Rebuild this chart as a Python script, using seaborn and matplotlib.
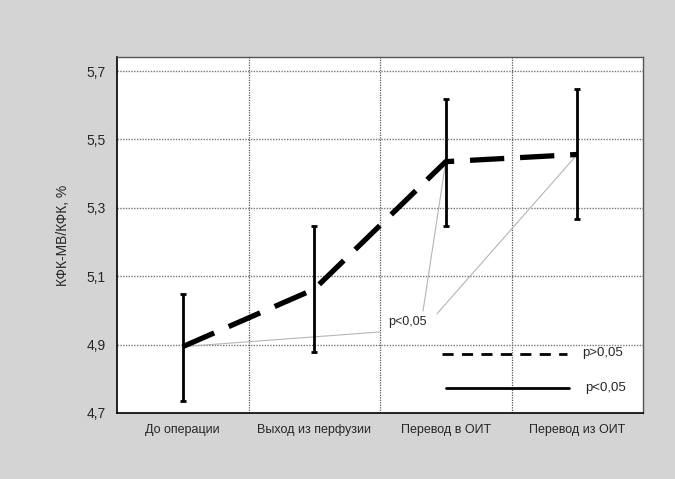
import numpy as np
import pandas as pd
import matplotlib
matplotlib.use("Agg")
import matplotlib.pyplot as plt
import seaborn as sns

# Данные
stages = ["До операции", "Выход из перфузии", "Перевод в ОИТ", "Перевод из ОИТ"]
means = [4.894, 5.062, 5.435, 5.456]
upper = [5.048, 5.248, 5.618, 5.646]
lower = [4.735, 4.878, 5.248, 5.267]
yticks = [4.7, 4.9, 5.1, 5.3, 5.5, 5.7]

sns.set_style("white")
plt.rcParams['font.family'] = ['Liberation Sans', 'DejaVu Sans']

df = pd.DataFrame({"pos": np.arange(len(stages)), "mean": means,
                   "lo": lower, "hi": upper})

fig = plt.figure(figsize=(6.75, 4.79), dpi=100, facecolor="#d4d4d4")
ax = fig.add_axes([117 / 675, 1 - 413 / 479, 526 / 675, 356 / 479])
ax.set_facecolor("white")

# сетка
for y in yticks[1:]:
    ax.axhline(y, color="#777777", linestyle=(0, (1, 1)), linewidth=1.0, zorder=1)
for x in [0.5, 1.5, 2.5]:
    ax.axvline(x, color="#555555", linestyle=(0, (1, 1)), linewidth=0.9, zorder=1)

# тонкие линии к подписи p<0,05
ax.plot([0, 1.5], [means[0], 4.937], color="#b5b5b5", linewidth=0.8, zorder=2)
ax.plot([1.827, 2], [4.998, means[2]], color="#b5b5b5", linewidth=0.8, zorder=2)
ax.plot([1.933, 3], [4.99, means[3]], color="#b5b5b5", linewidth=0.8, zorder=2)
ax.text(1.71, 4.966, "p<0,05", fontsize=9, ha="center", va="center", zorder=3)

# планки погрешностей
ax.errorbar(df["pos"], df["mean"],
            yerr=[df["mean"] - df["lo"], df["hi"] - df["mean"]],
            fmt="none", ecolor="black", elinewidth=2, capsize=2, capthick=2,
            zorder=4)

# средние значения
sns.lineplot(data=df, x="pos", y="mean", ax=ax, color="black", linewidth=3.8,
             zorder=5)
ax.lines[-1].set_dashes([6.5, 3])

# легенда
ax.plot([1.97, 2.92], [4.873, 4.873], color="black", linewidth=2,
        dashes=[4, 3])
ax.text(3.04, 4.876, "p>0,05", fontsize=9.5, va="center")
ax.plot([2.0, 2.94], [4.773, 4.773], color="black", linewidth=2)
ax.text(3.06, 4.772, "p<0,05", fontsize=9.5, va="center")

ax.set_xlim(-0.5, 3.5)
ax.set_ylim(4.7, 5.741)
ax.set_yticks(yticks)
ax.set_yticklabels([f"{v:.1f}".replace(".", ",") for v in yticks], fontsize=10)
ax.set_xticks(range(len(stages)))
ax.set_xticklabels(stages, fontsize=9)
ax.set_xticks([-0.5, 0.5, 1.5, 2.5, 3.5], minor=True)
ax.tick_params(axis="x", which="major", length=0, pad=8)
ax.tick_params(axis="x", which="minor", length=4, color="black", direction="out")
ax.tick_params(axis="y", length=4, color="black", direction="out", pad=4)
ax.set_xlabel("")
ax.set_ylabel("КФК-МВ/КФК, %", fontsize=10, labelpad=12)

for side in ["left", "bottom"]:
    ax.spines[side].set_color("black")
    ax.spines[side].set_linewidth(1.2)
for side in ["top", "right"]:
    ax.spines[side].set_color("#555555")
    ax.spines[side].set_linewidth(1.0)

fig.savefig("out.png", dpi=100, facecolor=fig.get_facecolor())
